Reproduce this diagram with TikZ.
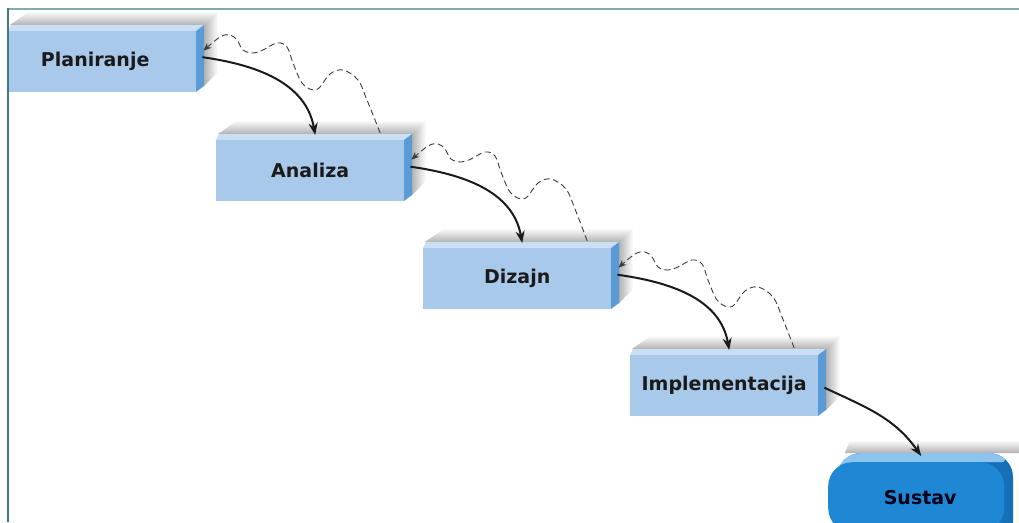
\documentclass[tikz,border=0pt]{standalone}
\usepackage{fontspec}
\setmainfont{DejaVu Sans}
\usetikzlibrary{arrows.meta,calc}
\definecolor{frontc}{HTML}{A9C9EA}
\definecolor{topc}{HTML}{CADFF3}
\definecolor{sidec}{HTML}{5B9BD5}
\definecolor{sustfront}{HTML}{1E88D4}
\definecolor{sustside}{HTML}{1670B8}
\definecolor{susttop}{HTML}{8DC4EE}
\definecolor{frametop}{HTML}{7FAAB0}
\definecolor{frameleft}{HTML}{3E7A80}
\definecolor{inkc}{HTML}{1A1A1A}
\tikzset{
  x=1pt, y=1pt,
  labelfont/.style={text=inkc, font=\bfseries\fontsize{19}{22}\selectfont},
  frontface/.style={fill=frontc, minimum width=188pt, minimum height=61pt, anchor=north west,
    inner sep=0pt, labelfont},
  solidarr/.style={draw=inkc, line width=2pt, -{Stealth[length=12pt,width=9pt]}},
  backarr/.style={draw=inkc!85, line width=0.9pt, dash pattern=on 6pt off 3.5pt, -{Stealth[length=8pt,width=6.5pt]}},
}
\newcommand{\stagebox}[4]{%
  \shade[top color=white, bottom color=black!30] (#2+2,#3+6) -- (#2+22,#3+20) -- (#2+210,#3+20) -- (#2+196,#3+6) -- cycle;
  \shade[left color=black!30, right color=white] (#2+196,#3+6) -- (#2+210,#3+20) -- (#2+210,#3-41) -- (#2+196,#3-55) -- cycle;
  \fill[topc] (#2,#3) -- (#2+188,#3) -- (#2+196,#3+6) -- (#2+3,#3+6) -- cycle;
  \fill[sidec] (#2+188,#3) -- (#2+196,#3+6) -- (#2+196,#3-55) -- (#2+188,#3-61) -- cycle;
  \node[frontface] (#1) at (#2,#3) {#4};
}
\begin{document}
\begin{tikzpicture}
\useasboundingbox (0,0) rectangle (1019,-522);
\clip (0,0) rectangle (1019,-522);
\fill[white] (0,0) rectangle (1019,-522);

\stagebox{P}{8}{-31}{\hspace*{-14pt}Planiranje}
\stagebox{A}{216}{-140}{Analiza}
\stagebox{D}{423}{-248}{Dizajn}
\stagebox{I}{630}{-355}{Implementacija}

% Sustav
\shade[top color=white, bottom color=black!30] (850,-440) -- (1019,-440) -- (1019,-453) -- (845,-453) -- cycle;
\fill[sustside, rounded corners=24pt] (837,-453) rectangle (1013,-545);
\begin{scope}
  \clip[rounded corners=24pt] (837,-453) rectangle (1013,-545);
  \fill[susttop] (820,-500) -- (862,-500) -- (862,-462) -- (1003,-462) -- (1013,-453) -- (1013,-430) -- (820,-430) -- cycle;
\end{scope}
\node[fill=sustfront, rounded corners=24pt, minimum width=176pt, minimum height=70pt, anchor=north west,
  inner sep=0pt, labelfont, text=black!90!blue] (S) at (828,-462) {\hspace*{8pt}Sustav};

% forward arrows
\draw[solidarr] ([xshift=6pt,yshift=4.5pt]P.east) to[out=-8,in=100] ([xshift=5pt,yshift=5pt]A.north);
\draw[solidarr] ([xshift=6pt,yshift=4pt]A.east) to[out=-8,in=100] ([xshift=5pt,yshift=5pt]D.north);
\draw[solidarr] ([xshift=6pt,yshift=4pt]D.east) to[out=-8,in=100] ([xshift=5pt,yshift=5pt]I.north);
\draw[solidarr] ([xshift=6pt,yshift=-2pt]I.east) to[out=-25,in=125] ([xshift=5pt,yshift=6pt]S.north);

% feedback arrows
\foreach \dx/\dy/\from/\to in {0/0/A/P, 208/-109/D/A, 415/-217/I/D}{
  \begin{scope}[shift={(\dx,\dy)}]
    \draw[backarr] plot[smooth, tension=0.6] coordinates {
      ([xshift=70pt,yshift=7pt]\from.north) (367,-100) (358,-80) (343,-70) (330,-74) (320,-87) (313,-90)
      (302,-83) (293,-63) (287,-47) (277,-43) (263,-50) (253,-53) (243,-50) (237,-40) (230,-35)
      (220,-37) ([xshift=7pt,yshift=11pt]\to.east)};
  \end{scope}
}

% frame
\draw[frametop, line width=2pt] (7,-8.5) -- (1019,-8.5);
\draw[frameleft, line width=2pt] (7.5,-8) -- (7.5,-522);
\end{tikzpicture}
\end{document}
